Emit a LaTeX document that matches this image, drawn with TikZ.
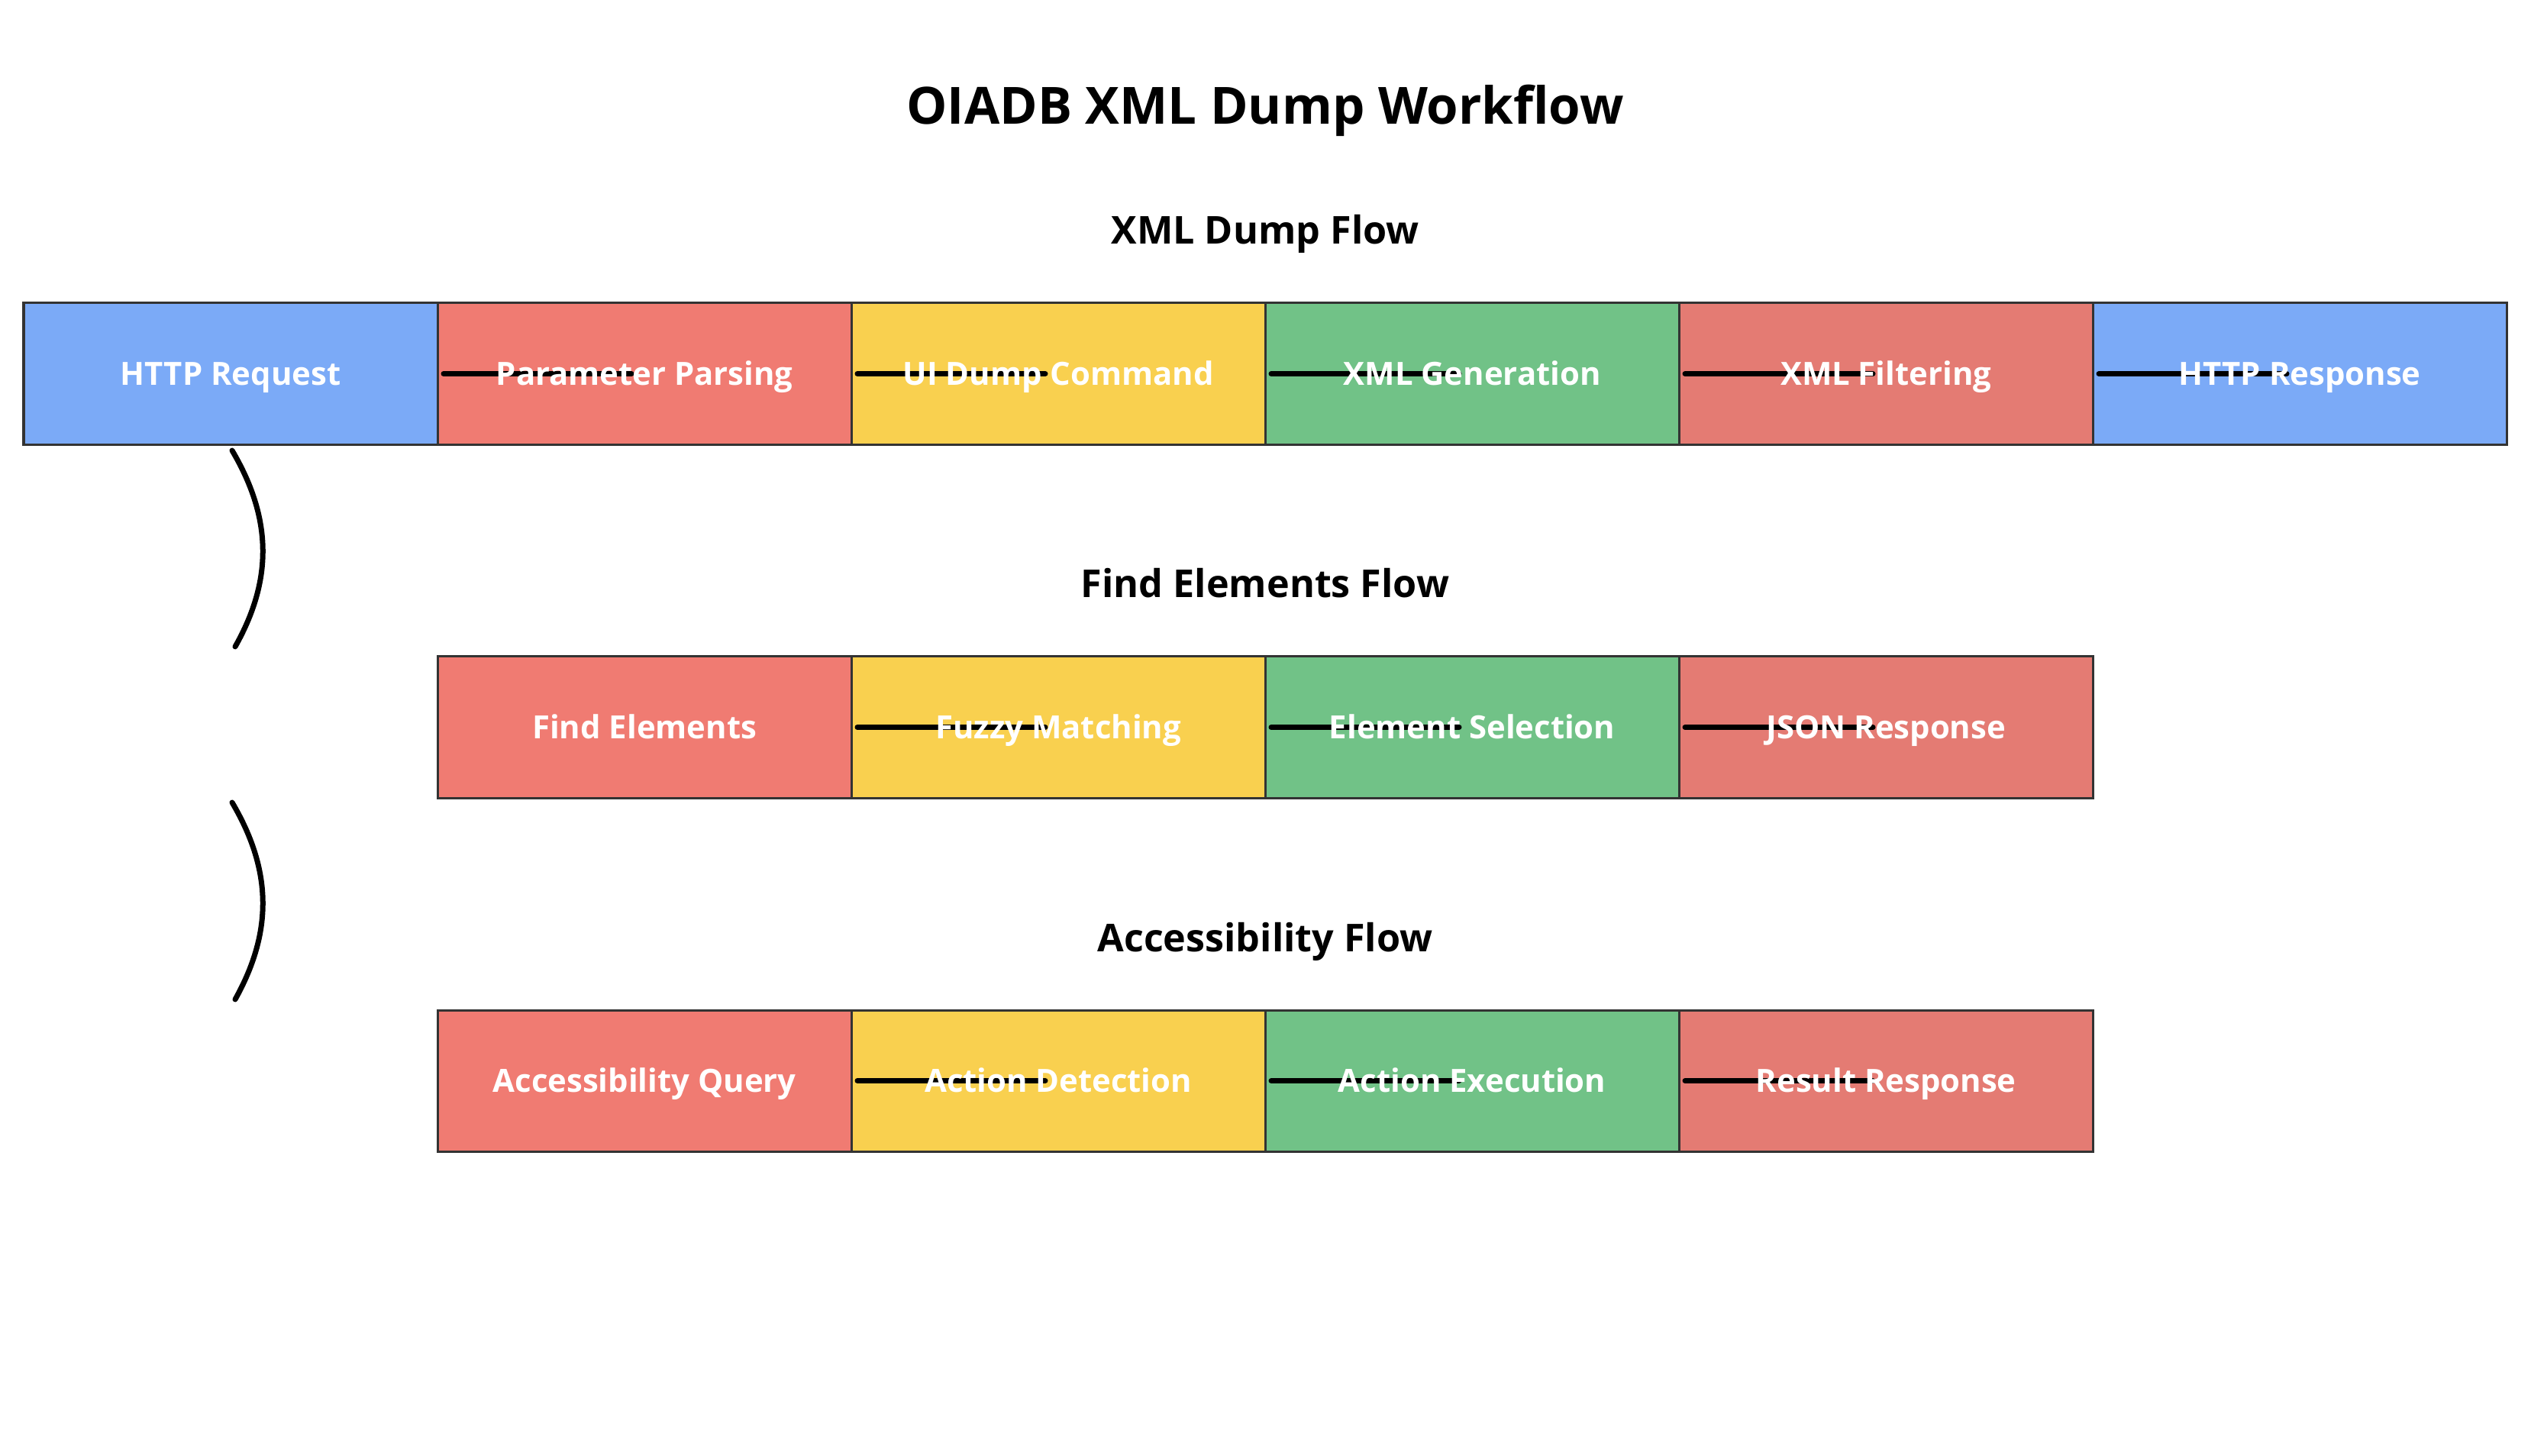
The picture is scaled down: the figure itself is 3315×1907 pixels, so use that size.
\documentclass[tikz,border=0pt]{standalone}
\usepackage{fontspec}
\setmainfont{Open Sans}
\definecolor{cblue}{HTML}{7BAAF7}
\definecolor{cred}{HTML}{F07B72}
\definecolor{cyel}{HTML}{F9D04F}
\definecolor{cgreen}{HTML}{71C287}
\definecolor{cred2}{HTML}{E47B73}
\definecolor{bordc}{HTML}{333333}
\begin{document}
\begin{tikzpicture}[x=0.01cm,y=-0.01cm,
  box/.style={draw=bordc,line width=0.03cm,minimum width=5.42cm,minimum height=1.85cm,inner sep=0pt,outer sep=0pt,anchor=north west},
  lbl/.style={text=white,font=\fontsize{11.9pt}{14pt}\selectfont\bfseries,inner sep=0pt,text height=0.30cm,text depth=0pt},
  ttl/.style={font=\fontsize{19.1pt}{23pt}\selectfont\bfseries,anchor=base,inner sep=0pt},
  sub/.style={font=\fontsize{14.3pt}{17pt}\selectfont\bfseries,anchor=base,inner sep=0pt},
  conn/.style={line width=0.07cm,line cap=round},
  brace/.style={line width=0.07cm,line cap=round}]
\useasboundingbox (0,0) rectangle (3315,1907);
\node[ttl] (title) at (1657,163) {OIADB XML Dump Workflow};
\node[sub] (s1) at (1657,320) {XML Dump Flow};
\node[sub] (s2) at (1657,783) {Find Elements Flow};
\node[sub] (s3) at (1657,1246) {Accessibility Flow};
% row 1
\node[box,fill=cblue] (a1) at (31,397) {};
\node[box,fill=cred] (a2) at (573,397) {};
\node[box,fill=cyel] (a3) at (1115,397) {};
\node[box,fill=cgreen] (a4) at (1657,397) {};
\node[box,fill=cred2] (a5) at (2199,397) {};
\node[box,fill=cblue] (a6) at (2741,397) {};
% row 2
\node[box,fill=cred] (b1) at (573,860) {};
\node[box,fill=cyel] (b2) at (1115,860) {};
\node[box,fill=cgreen] (b3) at (1657,860) {};
\node[box,fill=cred2] (b4) at (2199,860) {};
% row 3
\node[box,fill=cred] (c1) at (573,1323) {};
\node[box,fill=cyel] (c2) at (1115,1323) {};
\node[box,fill=cgreen] (c3) at (1657,1323) {};
\node[box,fill=cred2] (c4) at (2199,1323) {};
% connectors
\foreach \n in {a2,a3,a4,a5,a6,b2,b3,b4,c2,c3,c4}{
  \draw[conn] ([xshift=0.08cm]\n.west) -- ++(246,0);
}
% braces
\coordinate (p1) at (304,590);
\coordinate (p2) at (308,847);
\coordinate (q1) at (304,1051);
\coordinate (q2) at (308,1309);
\draw[brace] (p1) .. controls (357,680) and (357,760) .. (p2);
\draw[brace] (q1) .. controls (357,1141) and (357,1221) .. (q2);
% labels
\node[lbl] (la1) at (a1.center) {HTTP Request};
\node[lbl] (la2) at (a2.center) {Parameter Parsing};
\node[lbl] (la3) at (a3.center) {UI Dump Command};
\node[lbl] (la4) at (a4.center) {XML Generation};
\node[lbl] (la5) at (a5.center) {XML Filtering};
\node[lbl] (la6) at (a6.center) {HTTP Response};
\node[lbl] (lb1) at (b1.center) {Find Elements};
\node[lbl] (lb2) at (b2.center) {Fuzzy Matching};
\node[lbl] (lb3) at (b3.center) {Element Selection};
\node[lbl] (lb4) at (b4.center) {JSON Response};
\node[lbl] (lc1) at (c1.center) {Accessibility Query};
\node[lbl] (lc2) at (c2.center) {Action Detection};
\node[lbl] (lc3) at (c3.center) {Action Execution};
\node[lbl] (lc4) at (c4.center) {Result Response};
\end{tikzpicture}
\end{document}
